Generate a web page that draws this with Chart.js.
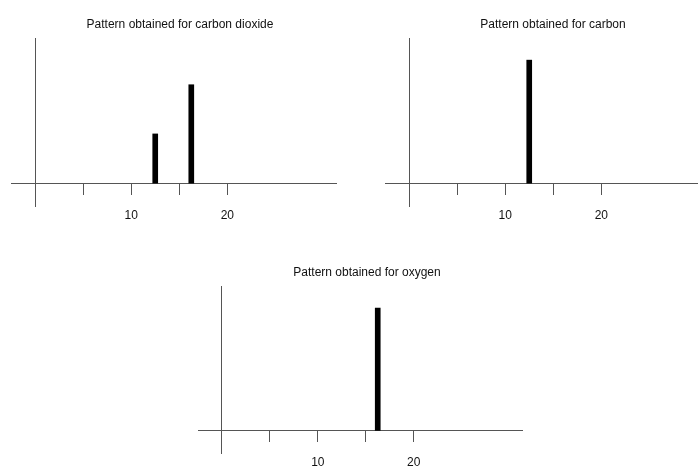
<!DOCTYPE html>
<html>
<head>
<meta charset="utf-8">
<script src="https://cdn.jsdelivr.net/npm/chart.js@4/dist/chart.umd.min.js"></script>
<style>
  html, body { margin: 0; padding: 0; background: #fff; overflow: hidden; width: 698px; height: 466px; }
  canvas { position: absolute; }
</style>
</head>
<body>
<canvas id="co2Chart" width="360" height="240" style="left:0px;top:0px;width:360px;height:240px"></canvas>
<canvas id="carbonChart" width="360" height="240" style="left:373px;top:0px;width:360px;height:240px"></canvas>
<canvas id="oxygenChart" width="360" height="218" style="left:187px;top:248px;width:360px;height:218px"></canvas>
<script>
//Data
var co2Mass = [12.5, 16.25];
var co2Height = [2, 4];
var carbonMass = [12.5];
var carbonHeight = [5];
var oxygenMass = [16.25];
var oxygenHeight = [5];

var tickValues = [0, 5, 10, 15, 20];
var tickLabels = ['', '', '10', '', '20'];

var xMin = -2.5, xMax = 31.3;
var yMin = -0.93, yMax = 5.9;

var axisColor = '#555555';
var fontFamily = 'Liberation Sans, Arial, sans-serif';

function toPoints(xs, ys) {
  var pts = [];
  for (var i = 0; i < xs.length; i++) {
    pts.push({x: xs[i], y: ys[i]});
  }
  return pts;
}

//empty side axis, only there to push the plot in so the title stays centred on the canvas
function spacer(side, w) {
  return {
    type: 'linear',
    position: side,
    min: 0,
    max: 1,
    grid: { display: false },
    border: { display: false },
    ticks: { display: false },
    afterFit: function (scale) { scale.width = w; }
  };
}

function makeChart(id, titleText, xs, ys, leftGap, rightGap, bottomGap) {
  var ctx = document.getElementById(id);
  return new Chart(ctx, {
    type: 'bar',
    data: {
      datasets: [{
        data: toPoints(xs, ys),
        xAxisID: 'x',
        yAxisID: 'y',
        backgroundColor: '#000000',
        borderWidth: 0,
        barThickness: 5
      }]
    },
    options: {
      responsive: false,
      animation: false,
      events: [],
      layout: { padding: {left: 0, right: 0, top: 0, bottom: bottomGap} },
      plugins: {
        legend: { display: false },
        tooltip: { enabled: false },
        title: {
          display: true,
          text: titleText,
          color: '#111111',
          font: { family: fontFamily, size: 12, weight: 'normal' },
          padding: { top: 17, bottom: 6.6 }
        }
      },
      scales: {
        x: {
          type: 'linear',
          min: xMin,
          max: xMax,
          offset: false,
          position: { y: 0 },
          grid: {
            display: true,
            offset: false,
            drawOnChartArea: false,
            drawTicks: true,
            tickLength: 11,
            color: axisColor,
            lineWidth: 1
          },
          border: { display: true, color: axisColor, width: 1 },
          afterBuildTicks: function (scale) {
            scale.ticks = tickValues.map(function (v) { return {value: v}; });
          },
          ticks: {
            autoSkip: false,
            maxRotation: 0,
            padding: 14,
            color: '#111111',
            font: { family: fontFamily, size: 12 },
            callback: function (value) {
              var i = tickValues.indexOf(value);
              return i >= 0 ? tickLabels[i] : '';
            }
          }
        },
        y: {
          type: 'linear',
          min: yMin,
          max: yMax,
          position: { x: 0 },
          grid: { display: false },
          border: { display: true, color: axisColor, width: 1 },
          ticks: { display: false }
        },
        padL: spacer('left', leftGap),
        padR: spacer('right', rightGap)
      }
    }
  });
}

//Top left
makeChart('co2Chart', 'Pattern obtained for carbon dioxide', co2Mass, co2Height, 11, 24, 34);

//Top right
makeChart('carbonChart', 'Pattern obtained for carbon', carbonMass, carbonHeight, 12, 23, 34);

//Bottom
makeChart('oxygenChart', 'Pattern obtained for oxygen', oxygenMass, oxygenHeight, 11, 25, 12.7);
</script>
</body>
</html>
